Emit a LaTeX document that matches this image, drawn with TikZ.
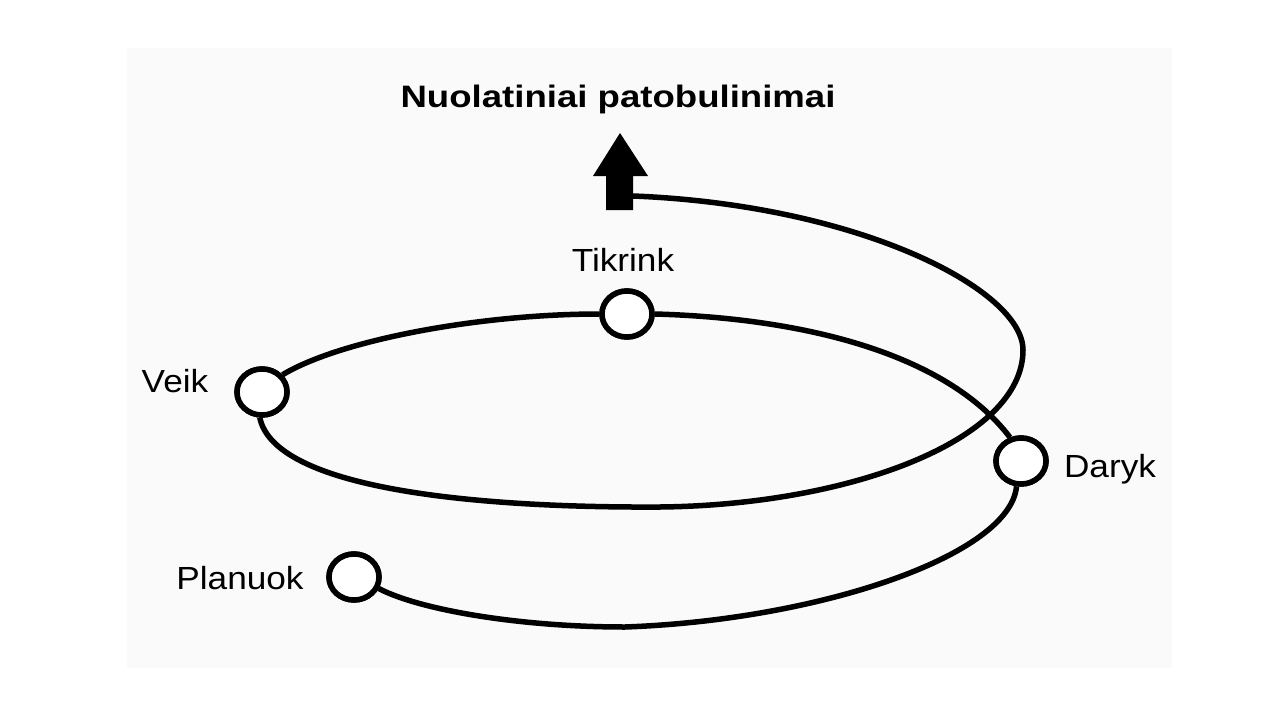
\documentclass[tikz,border=0pt]{standalone}
\usepackage{fontspec}
\setmainfont{Liberation Sans}
\usetikzlibrary{shapes.geometric}
\begin{document}
\begin{tikzpicture}[x=1pt,y=-1pt,
  conn/.style={line width=5.5pt},
  stage/.style={draw, line width=5.5pt, ellipse, fill=white, inner sep=0pt, minimum width=50pt, minimum height=46pt},
  lbl/.style={inner sep=0pt, anchor=base, font=\fontsize{32}{38}\selectfont},
  ttl/.style={inner sep=0pt, anchor=base, font=\fontsize{31}{37}\selectfont\bfseries}]
\useasboundingbox (0,0) rectangle (1280,720);
\fill[black!2] (127,48) rectangle (1172,668);
% stages
\node[stage] (veik) at (262,392) {};
\node[stage] (tik) at (627,314) {};
\node[stage] (dar) at (1021,461) {};
\node[stage] (plan) at (354,577) {};
\coordinate (arr) at (633,196);
% connectors
\draw[conn] (veik.265) .. controls (275,490) and (480,508) .. (660,507)
  .. controls (850,505) and (1023,440) .. (1023,350)
  .. controls (1023,290) and (860,205) .. (arr);
\draw[conn] (dar.115) .. controls (945,352) and (800,318) .. (tik.east);
\draw[conn] (tik.west) .. controls (480,314) and (340,340) .. (veik.40);
\draw[conn] (dar.260) .. controls (1010,555) and (820,620) .. (625,627)
  .. controls (520,627) and (420,610) .. (plan.-25);
% redraw stages on top
\node[stage] at (veik) {};
\node[stage] at (tik) {};
\node[stage] at (dar) {};
\node[stage] at (plan) {};
% arrow
\fill[black] (620,133) -- (648,176) -- (633,176) -- (633,210) -- (606,210) -- (606,176) -- (593,176) -- cycle;
% labels
\node[lbl] (lveik) at (175,392) {\scalebox{1.1}[1]{Veik}};
\node[lbl] (ltik) at (623,271) {\scalebox{1.1}[1]{Tikrink}};
\node[lbl] (ldar) at (1110,477) {\scalebox{1.1}[1]{Daryk}};
\node[lbl] (lplan) at (240,589) {\scalebox{1.1}[1]{Planuok}};
\node[ttl] (title) at (618,107) {\scalebox{1.18}[1]{Nuolatiniai patobulinimai}};
\end{tikzpicture}
\end{document}
